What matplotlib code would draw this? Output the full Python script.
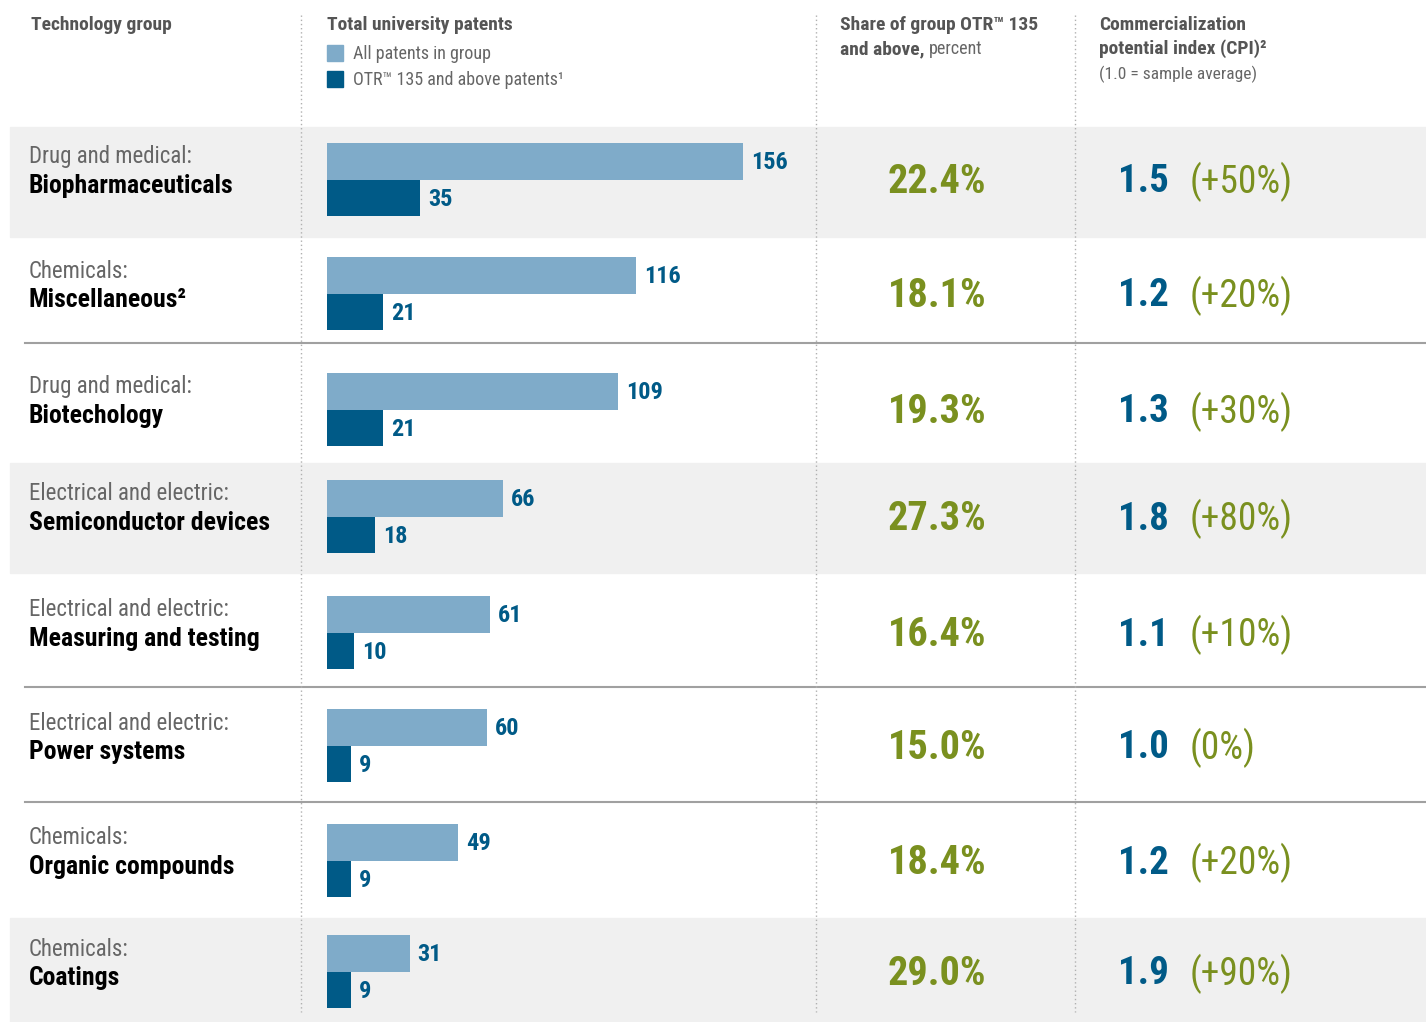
import matplotlib
matplotlib.use("Agg")
import matplotlib.pyplot as plt
from matplotlib import font_manager
from matplotlib.patches import Rectangle

# ---------------- data ----------------
categories = ["Drug and medical:", "Chemicals:", "Drug and medical:", "Electrical and electric:",
              "Electrical and electric:", "Electrical and electric:", "Chemicals:", "Chemicals:"]
groups = ["Biopharmaceuticals", "Miscellaneous²", "Biotechology", "Semiconductor devices",
          "Measuring and testing", "Power systems", "Organic compounds", "Coatings"]
all_patents = [156, 116, 109, 66, 61, 60, 49, 31]
otr_patents = [35, 21, 21, 18, 10, 9, 9, 9]
share_pct = ["22.4%", "18.1%", "19.3%", "27.3%", "16.4%", "15.0%", "18.4%", "29.0%"]
cpi = ["1.5", "1.2", "1.3", "1.8", "1.1", "1.0", "1.2", "1.9"]
cpi_change = ["(+50%)", "(+20%)", "(+30%)", "(+80%)", "(+10%)", "(0%)", "(+20%)", "(+90%)"]
shaded_rows = [0, 3, 7]
lines_after = [1, 4, 5]

# ---------------- layout (pixels) ----------------
W, H = 1426, 1022
row_centers = [180, 294, 410, 517, 633, 746, 861, 972]
bounds = [127, 237, 343, 463, 573, 687, 802, 918, 1022]

# ---------------- style ----------------
names = {f.name for f in font_manager.fontManager.ttflist}
FONT = "DejaVu Sans"
for cand in ["Roboto Condensed", "Liberation Sans Narrow", "Arial Narrow", "Roboto"]:
    if cand in names:
        FONT = cand
        break
plt.rcParams["font.family"] = [FONT, "DejaVu Sans"]

LIGHT = "#7fabc9"
DARK = "#005a87"
GREEN = "#7a901f"
GREY_TXT = "#666666"
HEAD = "#555555"
BAND = "#f0f0f0"

fig = plt.figure(figsize=(W / 100, H / 100), dpi=100)
bg = fig.add_axes([0, 0, 1, 1])
bg.set_xlim(0, W)
bg.set_ylim(H, 0)
bg.axis("off")

for r in shaded_rows:
    bg.add_patch(Rectangle((10, bounds[r]), W - 10, bounds[r + 1] - bounds[r], color=BAND, zorder=0))
for r in lines_after:
    bg.plot([25, W], [bounds[r + 1], bounds[r + 1]], color="#a0a0a0", lw=1.5, zorder=1)
for x in [301, 816, 1075]:
    bg.plot([x, x], [15, 1012], color="#b0b0b0", lw=1, ls=(0, (1, 2)), zorder=1)

# headers
HS = 14
bg.text(31, 25, "Technology group", fontsize=HS, fontweight="bold", color=HEAD, va="center")
bg.text(327, 25, "Total university patents", fontsize=HS, fontweight="bold", color=HEAD, va="center")
bg.add_patch(Rectangle((327, 45), 16, 16, color=LIGHT))
bg.add_patch(Rectangle((327, 71), 16, 16, color=DARK))
bg.text(353, 54, "All patents in group", fontsize=13, color=GREY_TXT, va="center")
bg.text(353, 80, "OTR™ 135 and above patents¹", fontsize=13, color=GREY_TXT, va="center")

bg.text(840, 25, "Share of group OTR™ 135", fontsize=HS, fontweight="bold", color=HEAD, va="center")
t1 = bg.text(840, 49, "and above,", fontsize=HS, fontweight="bold", color=HEAD, va="center")
fig.canvas.draw()
r = fig.canvas.get_renderer()
bb = t1.get_window_extent(r)
bg.text(840 + bb.width + 4, 49, "percent", fontsize=13, color=GREY_TXT, va="center")

bg.text(1099, 25, "Commercialization", fontsize=HS, fontweight="bold", color=HEAD, va="center")
bg.text(1099, 49, "potential index (CPI)²", fontsize=HS, fontweight="bold", color=HEAD, va="center")
bg.text(1099, 74, "(1.0 = sample average)", fontsize=12.5, color=GREY_TXT, va="center")

# row texts
for i, c in enumerate(row_centers):
    bg.text(29, c - 23, categories[i], fontsize=16.5, color=GREY_TXT, va="center")
    bg.text(29, c + 6, groups[i], fontsize=18.5, fontweight="bold", color="black", va="center")
    bg.text(937, c + 2, share_pct[i], fontsize=29, fontweight="bold", color=GREEN, va="center", ha="center")
    bg.text(1118, c + 2, cpi[i], fontsize=28, fontweight="bold", color=DARK, va="center")
    bg.text(1190, c + 2, cpi_change[i], fontsize=27, color=GREEN, va="center")

# bars axis: x in patent units, y in pixel rows
px_per_unit = (743 - 327) / 156.0
x0 = (301 - 327) / px_per_unit
x1 = (816 - 327) / px_per_unit
ax = fig.add_axes([301 / W, 0, (816 - 301) / W, 1])
ax.set_xlim(x0, x1)
ax.set_ylim(H, 0)
ax.axis("off")
ax.patch.set_alpha(0)

h = 36.5
ax.barh([c - h / 2 for c in row_centers], all_patents, height=h, color=LIGHT, left=0)
ax.barh([c + h / 2 for c in row_centers], otr_patents, height=h, color=DARK, left=0)
pad = 8 / px_per_unit
for c, a, o in zip(row_centers, all_patents, otr_patents):
    ax.text(a + pad, c - h / 2 + 1, str(a), fontsize=17.5, fontweight="bold", color=DARK, va="center")
    ax.text(o + pad, c + h / 2 + 1, str(o), fontsize=17.5, fontweight="bold", color=DARK, va="center")

fig.savefig("out.png", dpi=100)
